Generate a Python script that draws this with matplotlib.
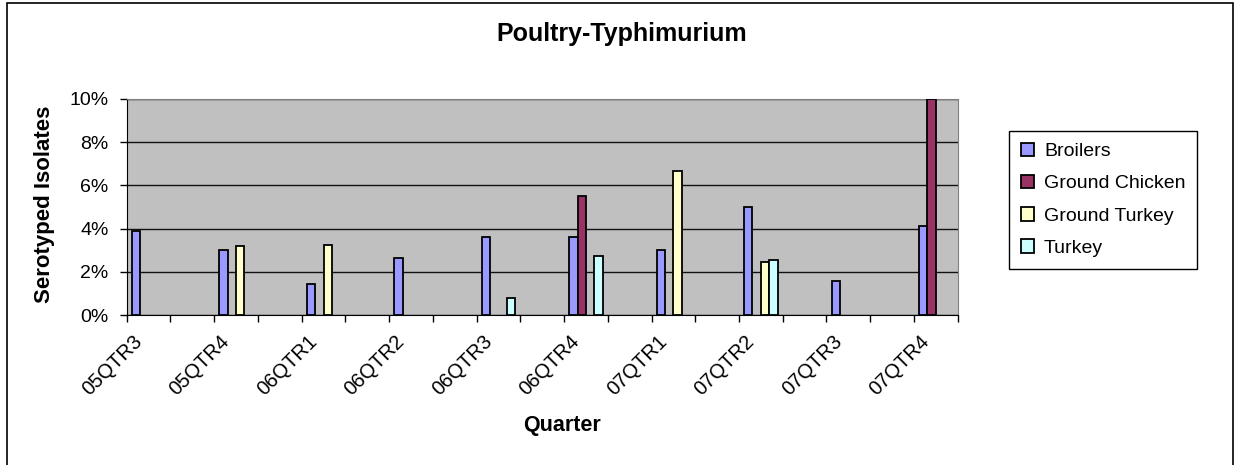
import numpy as np
import matplotlib.pyplot as plt
from matplotlib.patches import Rectangle
from matplotlib.transforms import ScaledTranslation

plt.rcParams['font.family'] = ['Liberation Sans', 'DejaVu Sans']

quarters = ["05QTR3", "05QTR4", "06QTR1", "06QTR2", "06QTR3",
            "06QTR4", "07QTR1", "07QTR2", "07QTR3", "07QTR4"]
nan = np.nan
broilers = [3.87, 3.0, 1.42, 2.64, 3.61, 3.61, 3.0, 5.0, 1.59, 4.13]
ground_chicken = [nan, nan, nan, nan, nan, 5.52, nan, nan, nan, 10.0]
ground_turkey = [nan, 3.18, 3.26, nan, nan, nan, 6.68, 2.47, nan, nan]
turkey = [nan, nan, nan, nan, 0.80, 2.73, nan, 2.56, nan, nan]

series = ["Broilers", "Ground Chicken", "Ground Turkey", "Turkey"]
values = [broilers, ground_chicken, ground_turkey, turkey]
colors = ["#9999FF", "#993366", "#FFFFCC", "#CCFFFF"]

W, H = 1235, 465
fig = plt.figure(figsize=(W / 100, H / 100), dpi=100)
ax = fig.add_axes([126.7 / W, 1 - 315 / H, (957.7 - 126.7) / W, (315 - 99) / H])
ax.set_facecolor("#C0C0C0")

# every quarter sits on an even slot, odd slots are empty (as in the source)
x = np.arange(len(quarters)) * 2
w = 0.192
for i, (name, vals, c) in enumerate(zip(series, values, colors)):
    ax.bar(x + (i - 1.5) * w, vals, width=w, color=c, edgecolor="black",
           linewidth=1.3, label=name, zorder=3)

ax.set_xlim(-0.5, 18.5)
ax.set_ylim(0, 10)
ax.set_yticks(np.arange(0, 11, 2))
ax.set_yticklabels([f"{v}%" for v in range(0, 11, 2)])
ax.yaxis.grid(True, color="#111111", linewidth=1, zorder=1)
ax.set_axisbelow(True)

ax.set_xticks(np.arange(-0.5, 19, 1))
ax.set_xticklabels([])
ax.set_xticks(x, quarters, minor=True)
ax.tick_params(axis="x", which="minor", length=0, pad=12)
ax.tick_params(axis="x", which="major", length=5, width=1, direction="out")
ax.tick_params(axis="y", length=5, width=1, direction="out", pad=8, labelsize=14)
shift = ScaledTranslation(-16 / 100, 0, fig.dpi_scale_trans)
for lbl in ax.get_xticklabels(minor=True):
    lbl.set_rotation(45)
    lbl.set_ha("right")
    lbl.set_va("top")
    lbl.set_rotation_mode("anchor")
    lbl.set_fontsize(14.5)
    lbl.set_transform(lbl.get_transform() + shift)

for s in ["top", "right"]:
    ax.spines[s].set_color("#808080")
for s in ["left", "bottom"]:
    ax.spines[s].set_color("black")

fig.text(622 / W, 1 - 34 / H, "Poultry-Typhimurium", ha="center", va="center",
         fontsize=18, fontweight="bold")
fig.text(45 / W, 1 - 204 / H, "Serotyped Isolates", ha="center", va="center",
         rotation=90, fontsize=16, fontweight="bold")
fig.text(562 / W, 1 - 425 / H, "Quarter", ha="center", va="center",
         fontsize=15.5, fontweight="bold")

leg = fig.legend(loc="upper left", bbox_to_anchor=(1009 / W, 1 - 131 / H),
                 borderaxespad=0, fontsize=14, frameon=True, fancybox=False,
                 framealpha=1, edgecolor="black", handlelength=0.7,
                 handleheight=0.7, handletextpad=0.5, labelspacing=0.75,
                 borderpad=0.6)
leg.get_frame().set_linewidth(1)

fig.patches.append(Rectangle((7 / W, -0.02), (1233 - 7) / W, (H - 3) / H + 0.02,
                             transform=fig.transFigure, fill=False,
                             edgecolor="black", linewidth=1.2))

fig.savefig("out.png", dpi=100)
